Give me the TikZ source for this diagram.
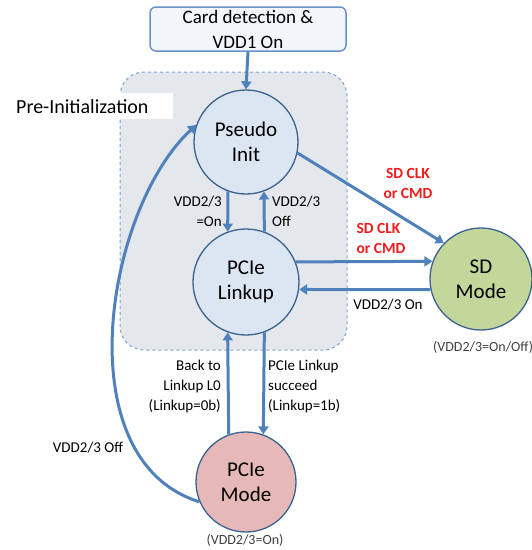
\documentclass[tikz,border=0pt]{standalone}
\usepackage{fontspec}
\setmainfont{Carlito}
\usetikzlibrary{arrows.meta}
\definecolor{flowblue}{HTML}{4F81BD}
\definecolor{rimblue}{HTML}{3B6390}
\definecolor{initfill}{HTML}{DCE6F2}
\definecolor{sdfill}{HTML}{C4D79B}
\definecolor{pciefill}{HTML}{E6B9B8}
\definecolor{prefill}{HTML}{E4E7EC}
\definecolor{predash}{HTML}{7FA3D0}
\definecolor{boxfill}{HTML}{F2F5FA}
\definecolor{boxrim}{HTML}{6B93C9}
\definecolor{sdred}{HTML}{F01C1C}
\tikzset{
	state/.style 2 args={circle,draw=rimblue,line width=1.3pt,fill=#1,minimum size=#2,inner sep=0pt,align=center,font=\fontsize{21}{25}\selectfont},
	flow/.style={draw=flowblue,line width=3pt,-{Triangle[length=8pt,width=10pt]}},
	lbl/.style={font=\fontsize{15}{20}\selectfont,inner sep=0pt},
	redlbl/.style={font=\fontsize{15.5}{20}\selectfont\bfseries,text=sdred,inner sep=0pt},
	note/.style={font=\fontsize{14}{16}\selectfont,text=black!75,inner sep=0pt}
}
\begin{document}
\begin{tikzpicture}[x=1pt,y=-1pt]
	\useasboundingbox (0,0) rectangle (532,550);
	% pre-initialization area
	\draw[predash,fill=prefill,dashed,line width=1pt,rounded corners=24pt] (120,72) rectangle (347,350);
	\node[fill=white,anchor=north west,minimum width=160pt,minimum height=26pt,text width=154pt,inner xsep=3pt,align=left,font=\fontsize{20}{22}\selectfont] (prelbl) at (13,93) {Pre-Initialization};

	\node[draw=boxrim,fill=boxfill,line width=1.5pt,rounded corners=6pt,minimum width=196pt,minimum height=44pt,align=center,inner sep=0pt,font=\fontsize{19}{25}\selectfont] (carddet) at (248,29) {Card detection \&\\VDD1 On};

	\node[state={initfill}{104pt}] (pseudo) at (246,142) {Pseudo\\Init};
	\node[state={initfill}{106pt}] (linkup) at (246,282) {PCIe\\Linkup};
	\node[state={sdfill}{102pt}] (sdmode) at (481,279) {SD\\Mode};
	\node[state={pciefill}{100pt}] (pciemode) at (246,482) {PCIe\\Mode};

	\draw[flow] (carddet.south) -- (pseudo.north);
	\draw[flow] (pseudo.250) -- (linkup.110);
	\draw[flow] (linkup.70) -- (pseudo.290);
	\draw[flow] (linkup.290) -- (pciemode.70);
	\draw[flow] (pciemode.110) -- (linkup.250);
	\draw[flow] (pseudo.-12) -- (sdmode.136);
	\draw[flow] (linkup.22.6) -- (sdmode.160.5);
	\draw[flow] (sdmode.192.5) -- (linkup.-8.8);
	\draw[flow] (pciemode.203) .. controls (65,460) and (105,210) .. (pseudo.161);

	\node[lbl,anchor=east,align=right] (onlbl) at (222,211) {VDD2/3\\=On};
	\node[lbl,anchor=west,align=left] (offlbl) at (272,211) {VDD2/3\\Off};
	\node[lbl,anchor=east,align=right] (backlbl) at (221,386) {Back to\\Linkup L0\\(Linkup=0b)};
	\node[lbl,anchor=west,align=left] (succlbl) at (268,386) {PCIe Linkup\\succeed\\(Linkup=1b)};
	\node[lbl] (sdonlbl) at (388,305) {VDD2/3 On};
	\node[lbl] (pcieofflbl) at (88,448) {VDD2/3 Off};
	\node[redlbl,align=center] (clka) at (408,183) {SD CLK\\or CMD};
	\node[redlbl,align=left] (clkb) at (381,238) {SD CLK\\or CMD};
	\node[note] (pcienote) at (245,540) {(VDD2/3=On)};
	\node[note,anchor=west] (sdnote) at (433,347) {(VDD2/3=On/Off)};
\end{tikzpicture}
\end{document}
